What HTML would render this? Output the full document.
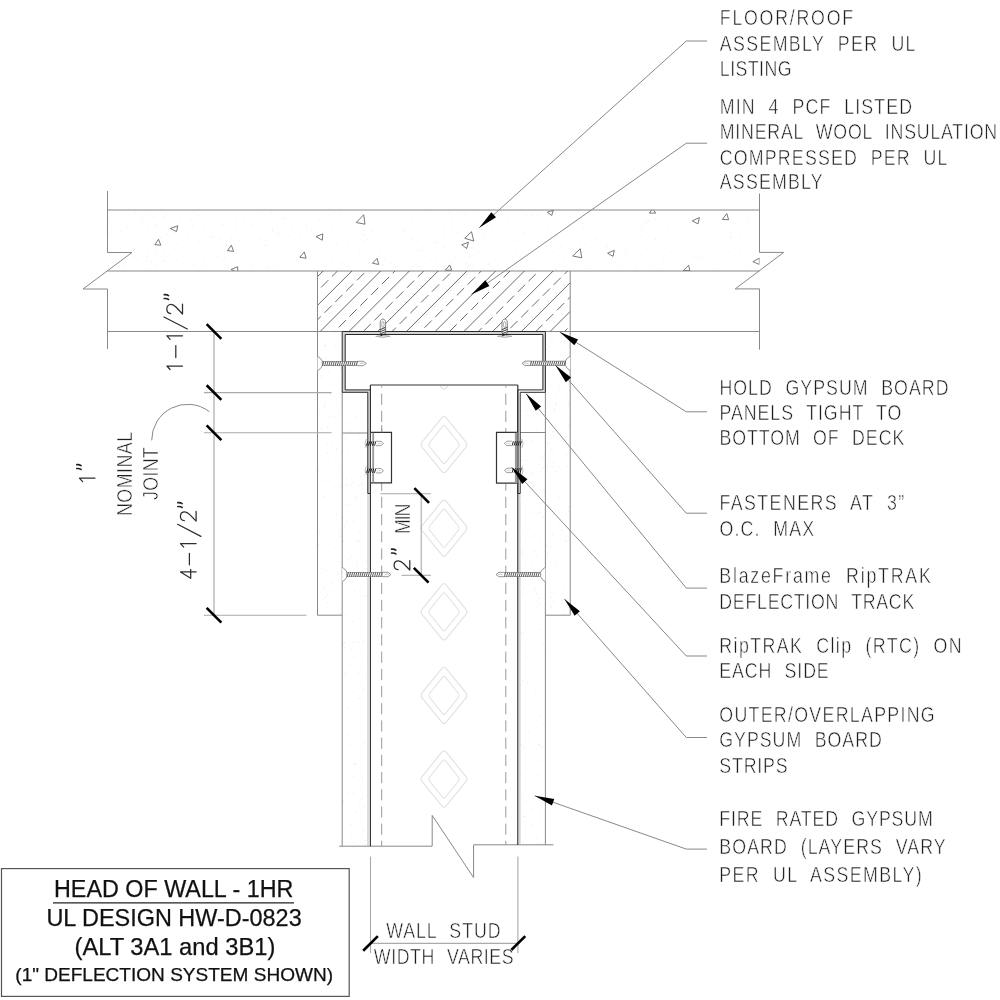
<!DOCTYPE html>
<html><head><meta charset="utf-8"><style>
html,body{margin:0;padding:0;background:#fff;width:1000px;height:1000px;overflow:hidden}
svg{display:block;will-change:transform}
.c{font-family:"Liberation Sans",sans-serif;font-size:22.8px;word-spacing:8.5px;letter-spacing:1.2px;fill:#1e1e1e;stroke:#fff;stroke-width:0.55px;paint-order:normal}
.tt{font-family:"Liberation Sans",sans-serif;fill:#111;stroke:#111;stroke-width:0.25px}
</style></head><body>
<svg width="1000" height="1000" viewBox="0 0 1000 1000" shape-rendering="geometricPrecision">
<defs>
<clipPath id="slabclip"><rect x="107.5" y="210" width="652" height="61"/></clipPath>
<clipPath id="insclip"><rect x="317.5" y="271" width="252.7" height="60.5"/></clipPath>
<clipPath id="studclip"><rect x="371" y="385.5" width="146" height="460"/></clipPath>
</defs>
<rect width="1000" height="1000" fill="#fff"/>
<path d="M318.8 219.9h0.8 M531.8 215.3h0.8 M456.9 232.6h0.8 M145.8 240.9h0.8 M132.4 236.6h0.8 M153.5 216.4h0.8 M384.4 259.8h0.8 M188.6 224.2h0.8 M516.5 266.9h0.8 M483.7 234.4h0.8 M743.5 213.7h0.8 M666.9 228.1h0.8 M201.9 217.9h0.8 M308.8 259.2h0.8 M225.7 245.3h0.8 M523.9 233.0h0.8 M464.6 214.7h0.8 M146.8 223.2h0.8 M550.9 236.2h0.8 M312.5 245.5h0.8 M403.0 228.7h0.8 M625.1 252.2h0.8 M266.9 244.9h0.8 M449.9 262.6h0.8 M582.9 228.0h0.8 M746.1 218.0h0.8 M380.2 255.7h0.8 M206.9 239.8h0.8 M133.5 250.4h0.8 M605.7 244.8h0.8 M677.9 229.5h0.8 M560.6 246.1h0.8 M485.5 237.9h0.8 M654.8 266.7h0.8 M416.6 250.2h0.8 M147.5 252.4h0.8 M529.3 269.6h0.8 M643.1 227.8h0.8 M359.2 250.5h0.8 M122.7 238.2h0.8 M217.4 217.9h0.8 M146.4 256.3h0.8 M192.2 225.6h0.8 M362.5 262.4h0.8 M160.5 237.5h0.8 M465.7 263.1h0.8 M641.4 262.0h0.8 M289.3 235.5h0.8 M341.6 263.2h0.8 M731.5 219.9h0.8 M222.7 224.7h0.8 M259.9 239.6h0.8 M491.5 226.5h0.8 M110.7 235.7h0.8 M348.4 244.4h0.8 M728.5 251.7h0.8 M443.6 247.4h0.8 M548.2 214.2h0.8 M693.6 257.0h0.8 M677.3 258.1h0.8 M363.4 234.5h0.8 M175.4 248.4h0.8 M148.5 215.0h0.8 M243.9 220.6h0.8 M329.4 214.1h0.8 M108.2 219.9h0.8 M174.1 232.5h0.8 M124.6 262.6h0.8 M507.8 219.8h0.8 M272.2 231.5h0.8 M345.1 218.2h0.8 M660.7 269.6h0.8 M411.4 239.5h0.8 M163.9 217.0h0.8 M331.1 226.6h0.8 M647.6 220.5h0.8 M123.0 267.1h0.8 M451.9 219.6h0.8 M461.6 212.6h0.8 M451.8 268.7h0.8 M670.0 252.1h0.8 M278.0 232.6h0.8 M216.7 256.5h0.8 M454.7 257.0h0.8 M322.6 224.2h0.8 M636.3 269.1h0.8 M663.1 258.6h0.8 M640.7 254.7h0.8 M255.6 241.5h0.8 M339.5 212.7h0.8 M126.2 227.5h0.8 M276.7 251.9h0.8 M730.7 237.4h0.8 M718.0 269.3h0.8 M729.7 232.5h0.8 M251.5 224.4h0.8 M236.1 223.1h0.8 M514.3 264.1h0.8 M655.1 239.3h0.8 M533.1 258.2h0.8 M163.2 250.0h0.8 M700.3 257.2h0.8 M596.3 239.2h0.8 M224.2 257.6h0.8 M324.5 258.2h0.8 M740.5 234.4h0.8 M369.3 266.9h0.8 M579.8 221.0h0.8 M190.7 219.9h0.8 M697.1 258.6h0.8 M203.2 259.8h0.8 M746.2 249.8h0.8 M336.1 243.4h0.8 M193.3 211.8h0.8 M740.0 249.3h0.8 M450.8 266.1h0.8 M390.4 262.4h0.8 M645.8 223.5h0.8 M271.9 228.3h0.8 M264.6 245.6h0.8 M276.8 235.7h0.8 M193.3 264.7h0.8 M338.3 238.0h0.8 M487.8 264.4h0.8 M381.8 265.1h0.8 M434.6 242.4h0.8 M448.8 212.1h0.8 M394.5 221.8h0.8 M110.6 258.2h0.8 M220.2 238.9h0.8 M580.1 243.8h0.8 M320.2 241.6h0.8 M469.6 257.3h0.8 M177.1 244.1h0.8 M269.8 227.3h0.8 M610.7 241.0h0.8 M473.7 255.8h0.8 M702.0 237.2h0.8 M506.8 240.8h0.8 M441.4 251.9h0.8 M402.5 242.5h0.8 M419.2 266.5h0.8 M563.2 262.7h0.8 M721.4 226.3h0.8 M472.2 266.7h0.8 M654.8 219.1h0.8 M187.2 237.1h0.8 M155.2 225.2h0.8 M155.6 250.5h0.8 M618.3 263.9h0.8 M208.5 253.3h0.8 M537.8 219.4h0.8 M682.7 268.1h0.8 M251.0 267.2h0.8 M367.3 239.7h0.8 M752.4 260.1h0.8 M213.1 236.5h0.8 M443.7 231.0h0.8 M235.4 229.8h0.8 M578.1 212.1h0.8 M468.7 237.0h0.8 M119.8 230.6h0.8 M514.2 241.2h0.8 M149.9 269.1h0.8 M621.2 268.3h0.8 M176.2 226.7h0.8 M133.8 257.0h0.8 M284.1 218.6h0.8 M382.9 264.8h0.8 M641.2 226.3h0.8 M205.2 265.2h0.8 M479.5 252.3h0.8 M166.2 214.4h0.8 M556.0 236.1h0.8 M155.1 266.4h0.8 M521.0 258.3h0.8 M162.5 261.5h0.8 M151.4 261.9h0.8 M403.4 231.0h0.8 M468.0 265.7h0.8 M282.4 218.6h0.8 M451.0 225.1h0.8 M179.3 220.5h0.8 M140.8 222.9h0.8 M311.1 229.0h0.8 M602.4 228.1h0.8 M433.6 221.5h0.8 M333.9 212.1h0.8 M271.0 211.9h0.8 M585.2 243.5h0.8 M231.3 239.0h0.8 M716.5 217.3h0.8 M641.1 236.5h0.8 M430.2 260.2h0.8 M363.9 240.9h0.8 M555.7 269.0h0.8 M331.1 260.1h0.8 M568.1 248.5h0.8 M371.5 231.5h0.8 M143.4 218.7h0.8 M154.0 254.7h0.8 M274.4 220.6h0.8 M163.0 260.6h0.8 M674.7 250.6h0.8 M291.5 225.3h0.8 M298.8 238.1h0.8 M210.6 237.3h0.8 M279.4 267.7h0.8 M741.2 243.3h0.8 M267.1 268.0h0.8 M309.5 232.0h0.8 M108.7 233.5h0.8 M417.0 240.7h0.8 M238.8 240.8h0.8 M111.2 226.6h0.8 M166.4 234.6h0.8 M135.1 212.3h0.8 M306.1 224.7h0.8 M489.2 242.2h0.8 M596.6 249.8h0.8 M574.1 262.9h0.8 M361.6 230.2h0.8 M749.1 219.8h0.8 M579.4 248.9h0.8 M136.5 260.3h0.8 M688.7 248.0h0.8 M585.7 258.9h0.8 M198.7 241.9h0.8 M436.3 260.3h0.8 M631.8 259.8h0.8 M488.2 263.7h0.8 M552.6 251.9h0.8 M257.7 212.8h0.8 M194.6 232.3h0.8 M176.3 260.3h0.8 M471.6 248.0h0.8 M515.7 251.2h0.8 M426.5 211.2h0.8 M627.3 255.1h0.8 M435.4 242.6h0.8 M537.2 214.9h0.8 M587.6 225.9h0.8 M156.5 226.7h0.8 M582.8 223.1h0.8 M589.6 268.6h0.8 M429.6 233.6h0.8 M419.8 251.3h0.8 M607.3 247.4h0.8 M526.4 215.6h0.8 M204.0 226.0h0.8 M591.8 229.0h0.8 M477.6 211.7h0.8 M147.5 226.9h0.8 M545.5 251.8h0.8 M547.9 228.2h0.8 M444.3 238.4h0.8 M411.6 218.0h0.8 M689.8 222.8h0.8 M744.8 266.2h0.8 M119.4 238.1h0.8" stroke="#e2e2e2" stroke-width="0.8" fill="none"/>
<path d="M337.7 606.0h0.8 M328.8 408.0h0.8 M323.0 599.6h0.8 M323.1 496.6h0.8 M321.4 480.3h0.8 M340.9 369.5h0.8 M337.7 476.0h0.8 M339.3 531.0h0.8 M323.6 586.1h0.8 M329.7 339.0h0.8 M318.1 471.1h0.8 M328.8 417.5h0.8 M321.4 429.3h0.8 M325.6 569.8h0.8 M318.0 544.5h0.8 M338.1 366.0h0.8 M340.2 533.8h0.8 M339.6 414.0h0.8 M326.9 443.2h0.8 M342.0 498.7h0.8 M326.7 453.1h0.8 M324.6 345.7h0.8 M320.4 568.2h0.8 M324.9 596.8h0.8 M324.0 407.2h0.8 M330.3 385.7h0.8 M327.0 602.6h0.8 M339.2 561.8h0.8 M333.1 590.5h0.8 M340.6 487.4h0.8 M335.3 346.0h0.8 M335.6 459.6h0.8 M336.1 514.4h0.8 M324.9 345.9h0.8 M340.2 368.0h0.8 M329.3 429.3h0.8 M325.1 541.1h0.8 M341.4 405.6h0.8 M333.7 417.1h0.8 M331.4 443.6h0.8 M322.0 377.7h0.8 M323.0 588.4h0.8 M329.9 394.3h0.8 M339.8 614.0h0.8 M328.8 371.5h0.8 M322.6 357.7h0.8 M326.2 357.8h0.8 M323.7 405.1h0.8 M331.7 583.1h0.8 M336.0 448.8h0.8 M327.9 480.3h0.8 M327.0 427.7h0.8 M319.5 410.5h0.8 M341.2 367.6h0.8 M330.1 510.2h0.8 M338.7 393.1h0.8 M324.5 402.3h0.8 M327.6 458.2h0.8 M340.9 572.2h0.8 M338.9 338.2h0.8 M318.8 532.8h0.8 M339.5 465.9h0.8 M332.1 332.1h0.8 M327.4 594.3h0.8 M337.8 574.1h0.8 M341.3 402.3h0.8 M320.6 375.7h0.8 M330.5 525.0h0.8 M340.6 536.3h0.8 M333.5 548.4h0.8" stroke="#dcdcdc" stroke-width="0.8" fill="none"/>
<path d="M557.0 488.1h0.8 M546.9 553.4h0.8 M551.6 592.3h0.8 M561.5 418.0h0.8 M549.1 403.3h0.8 M561.3 529.7h0.8 M548.7 351.9h0.8 M558.6 497.0h0.8 M555.3 395.3h0.8 M560.4 335.0h0.8 M553.2 462.4h0.8 M569.0 514.4h0.8 M567.2 466.5h0.8 M551.6 401.9h0.8 M569.1 531.4h0.8 M553.4 338.2h0.8 M558.0 522.9h0.8 M556.1 404.8h0.8 M562.0 593.8h0.8 M551.4 341.6h0.8 M554.1 451.0h0.8 M562.4 388.1h0.8 M565.1 541.2h0.8 M558.1 390.1h0.8 M569.3 420.2h0.8 M565.7 397.3h0.8 M551.3 547.2h0.8 M553.1 601.4h0.8 M557.9 385.0h0.8 M551.4 450.0h0.8 M562.0 600.5h0.8 M549.5 443.3h0.8 M551.1 607.7h0.8 M549.4 346.7h0.8 M547.4 443.3h0.8 M567.6 582.1h0.8 M563.6 614.3h0.8 M568.4 425.2h0.8 M550.5 596.9h0.8 M563.9 341.0h0.8 M561.9 439.1h0.8 M555.0 425.9h0.8 M550.1 332.8h0.8 M552.7 431.5h0.8 M568.9 367.0h0.8 M569.1 390.7h0.8 M554.6 564.5h0.8 M565.7 454.4h0.8 M547.2 466.0h0.8 M554.9 592.2h0.8 M550.6 435.1h0.8 M567.5 340.6h0.8 M555.9 561.7h0.8 M564.4 343.5h0.8 M546.8 349.7h0.8 M568.1 404.7h0.8 M563.9 586.3h0.8 M554.1 409.1h0.8 M569.0 506.6h0.8 M552.3 534.8h0.8 M553.6 410.0h0.8 M546.1 545.8h0.8 M568.0 511.4h0.8 M568.6 338.9h0.8 M551.6 466.5h0.8 M569.0 602.0h0.8 M555.3 403.0h0.8 M556.3 471.7h0.8 M568.3 383.8h0.8 M565.3 541.0h0.8" stroke="#dcdcdc" stroke-width="0.8" fill="none"/>
<path d="M363.6 743.1h0.8 M358.2 541.5h0.8 M351.0 556.9h0.8 M362.6 428.8h0.8 M347.9 734.1h0.8 M349.2 422.3h0.8 M343.8 643.3h0.8 M351.1 837.1h0.8 M365.1 840.5h0.8 M349.6 431.1h0.8 M345.4 618.8h0.8 M360.7 595.5h0.8 M348.9 581.8h0.8 M358.5 698.4h0.8 M361.7 776.7h0.8 M359.6 447.9h0.8 M364.0 526.1h0.8 M357.2 562.0h0.8 M361.5 483.2h0.8 M349.2 504.1h0.8 M346.8 793.5h0.8 M357.5 540.8h0.8 M352.9 842.6h0.8 M355.7 497.8h0.8 M363.2 689.0h0.8 M367.8 439.4h0.8 M354.9 764.1h0.8 M364.0 807.2h0.8 M344.0 526.0h0.8 M346.0 478.9h0.8 M367.3 657.2h0.8 M366.3 561.6h0.8 M364.7 596.4h0.8 M349.5 745.3h0.8 M366.6 440.9h0.8 M357.9 673.8h0.8 M348.4 560.0h0.8 M346.5 485.4h0.8 M349.4 664.5h0.8 M359.3 485.2h0.8 M343.3 541.2h0.8 M360.0 476.9h0.8 M350.8 485.1h0.8 M362.9 641.3h0.8 M344.6 438.9h0.8 M352.9 642.2h0.8 M359.0 434.3h0.8 M347.1 708.0h0.8 M353.2 521.3h0.8 M350.7 824.8h0.8 M350.8 649.6h0.8 M351.9 581.6h0.8 M364.6 844.5h0.8 M352.1 482.3h0.8 M361.2 485.3h0.8 M343.1 801.4h0.8 M353.6 764.6h0.8 M353.2 792.9h0.8 M354.5 466.6h0.8 M343.4 642.9h0.8 M359.0 805.1h0.8 M345.2 674.9h0.8 M352.3 621.5h0.8 M346.6 521.3h0.8 M356.0 812.3h0.8 M345.7 615.2h0.8 M363.1 831.0h0.8 M347.9 450.4h0.8 M366.6 834.9h0.8 M355.1 417.2h0.8 M366.2 568.7h0.8 M365.6 674.0h0.8 M363.6 465.6h0.8 M362.6 493.6h0.8 M353.1 776.4h0.8 M363.7 475.9h0.8 M348.5 574.1h0.8 M355.9 566.8h0.8 M346.1 504.9h0.8 M361.1 799.5h0.8 M344.0 647.7h0.8 M361.9 410.3h0.8 M364.0 446.3h0.8 M358.0 642.2h0.8 M358.7 531.7h0.8 M353.5 656.9h0.8 M353.6 691.5h0.8 M354.2 591.6h0.8 M343.6 673.4h0.8 M355.2 499.6h0.8" stroke="#dcdcdc" stroke-width="0.8" fill="none"/>
<path d="M539.1 745.5h0.8 M531.5 474.2h0.8 M531.8 441.4h0.8 M523.2 587.6h0.8 M522.3 592.8h0.8 M532.8 411.4h0.8 M535.9 430.2h0.8 M538.3 744.5h0.8 M532.8 417.5h0.8 M532.6 563.8h0.8 M543.8 454.6h0.8 M541.4 843.2h0.8 M538.3 761.4h0.8 M524.8 836.7h0.8 M532.3 825.4h0.8 M542.9 467.6h0.8 M539.7 813.6h0.8 M521.6 551.6h0.8 M538.9 464.8h0.8 M542.4 517.3h0.8 M540.4 457.9h0.8 M532.6 808.8h0.8 M525.2 511.8h0.8 M532.7 537.2h0.8 M520.9 475.3h0.8 M524.0 816.3h0.8 M537.0 797.7h0.8 M524.2 747.8h0.8 M522.9 632.9h0.8 M535.9 555.6h0.8 M541.8 643.9h0.8 M534.5 791.9h0.8 M522.6 841.8h0.8 M535.7 571.2h0.8 M539.9 512.7h0.8 M544.8 654.0h0.8 M529.0 738.6h0.8 M531.1 472.9h0.8 M538.6 414.8h0.8 M540.5 507.7h0.8 M536.0 837.8h0.8 M534.6 693.0h0.8 M527.8 393.8h0.8 M520.8 460.5h0.8 M535.4 588.4h0.8 M532.8 797.8h0.8 M523.3 495.7h0.8 M536.3 403.1h0.8 M520.1 553.4h0.8 M522.7 554.4h0.8 M525.6 656.8h0.8 M534.7 485.3h0.8 M535.6 607.7h0.8 M523.4 816.3h0.8 M526.1 460.5h0.8 M522.4 681.5h0.8 M541.8 746.5h0.8 M530.0 512.4h0.8 M520.3 684.5h0.8 M534.1 551.4h0.8 M536.1 593.6h0.8 M543.4 724.6h0.8 M526.2 801.4h0.8 M521.1 633.3h0.8 M530.1 500.4h0.8 M521.5 745.1h0.8 M520.3 642.0h0.8 M543.5 457.3h0.8 M525.0 667.9h0.8 M532.7 683.0h0.8 M540.3 471.9h0.8 M527.7 528.7h0.8 M521.2 795.0h0.8 M539.6 716.4h0.8 M520.2 774.7h0.8 M538.6 603.3h0.8 M538.5 597.5h0.8 M525.6 440.6h0.8 M525.8 410.5h0.8 M528.4 731.8h0.8 M537.4 775.1h0.8 M537.8 513.2h0.8 M533.8 590.1h0.8 M539.7 629.5h0.8 M526.6 683.2h0.8 M544.1 491.1h0.8 M542.0 399.9h0.8 M526.5 499.7h0.8 M538.6 820.0h0.8 M538.7 540.7h0.8" stroke="#dcdcdc" stroke-width="0.8" fill="none"/>
<line x1="107.50" y1="210.00" x2="759.50" y2="210.00" stroke="#888" stroke-width="1.0" />
<line x1="107.50" y1="271.00" x2="759.50" y2="271.00" stroke="#888" stroke-width="1.0" />
<line x1="107.50" y1="331.50" x2="759.50" y2="331.50" stroke="#888" stroke-width="1.0" />
<polyline points="107.50,191.00 107.50,252.50 132.00,252.50 83.00,289.00 107.50,289.00 107.50,349.00" stroke="#888" stroke-width="1.0" fill="none" />
<polyline points="759.50,193.50 759.50,252.40 783.70,252.40 735.20,288.90 759.50,288.90 759.50,349.60" stroke="#888" stroke-width="1.0" fill="none" />
<g clip-path="url(#slabclip)">
<polygon points="170.20,228.50 177.80,225.80 176.50,231.60" stroke="#6a6a6a" stroke-width="0.9" fill="none" stroke-linejoin="round"/>
<polygon points="154.90,244.70 158.50,239.30 160.80,245.20" stroke="#6a6a6a" stroke-width="0.9" fill="none" stroke-linejoin="round"/>
<polygon points="227.40,250.60 231.40,245.20 233.60,251.40" stroke="#6a6a6a" stroke-width="0.9" fill="none" stroke-linejoin="round"/>
<polygon points="316.00,236.60 322.80,233.90 322.30,240.20" stroke="#6a6a6a" stroke-width="0.9" fill="none" stroke-linejoin="round"/>
<polygon points="299.80,257.30 304.30,251.90 306.10,258.20" stroke="#6a6a6a" stroke-width="0.9" fill="none" stroke-linejoin="round"/>
<polygon points="231.00,269.40 237.70,266.80 237.70,272.80" stroke="#6a6a6a" stroke-width="0.9" fill="none" stroke-linejoin="round"/>
<polygon points="356.25,222.55 363.70,214.75 365.00,224.20" stroke="#6a6a6a" stroke-width="0.9" fill="none" stroke-linejoin="round"/>
<polygon points="372.50,263.20 377.10,258.30 378.70,264.50" stroke="#6a6a6a" stroke-width="0.9" fill="none" stroke-linejoin="round"/>
<polygon points="464.75,238.30 471.50,231.70 473.75,241.00" stroke="#6a6a6a" stroke-width="0.9" fill="none" stroke-linejoin="round"/>
<polygon points="461.75,244.75 468.50,242.20 466.70,248.50" stroke="#6a6a6a" stroke-width="0.9" fill="none" stroke-linejoin="round"/>
<polygon points="445.25,270.25 449.75,265.00 451.70,270.25" stroke="#6a6a6a" stroke-width="0.9" fill="none" stroke-linejoin="round"/>
<polygon points="547.25,212.20 553.25,210.25 551.75,215.50" stroke="#6a6a6a" stroke-width="0.9" fill="none" stroke-linejoin="round"/>
<polygon points="572.75,256.00 580.25,248.80 581.75,257.80" stroke="#6a6a6a" stroke-width="0.9" fill="none" stroke-linejoin="round"/>
<polygon points="649.40,213.10 652.60,208.50 655.70,213.10" stroke="#6a6a6a" stroke-width="0.9" fill="none" stroke-linejoin="round"/>
<polygon points="692.20,220.80 699.40,217.60 698.00,223.90" stroke="#6a6a6a" stroke-width="0.9" fill="none" stroke-linejoin="round"/>
<polygon points="722.30,219.40 726.80,213.60 728.60,219.80" stroke="#6a6a6a" stroke-width="0.9" fill="none" stroke-linejoin="round"/>
<polygon points="607.60,253.20 614.30,250.40 613.00,256.30" stroke="#6a6a6a" stroke-width="0.9" fill="none" stroke-linejoin="round"/>
<polygon points="683.20,270.70 688.60,265.30 689.90,270.70" stroke="#6a6a6a" stroke-width="0.9" fill="none" stroke-linejoin="round"/>
<polygon points="752.90,261.70 759.50,258.10 759.20,264.40" stroke="#6a6a6a" stroke-width="0.9" fill="none" stroke-linejoin="round"/>
</g>
<g clip-path="url(#insclip)">
<line x1="294.40" y1="271.00" x2="233.90" y2="331.50" stroke="#5a5a5a" stroke-width="0.9" />
<line x1="308.77" y1="271.00" x2="248.27" y2="331.50" stroke="#5a5a5a" stroke-width="0.9" stroke-dasharray="10.2 5.1" stroke-dashoffset="7.60"/>
<line x1="323.15" y1="271.00" x2="262.65" y2="331.50" stroke="#5a5a5a" stroke-width="0.9" />
<line x1="337.52" y1="271.00" x2="277.02" y2="331.50" stroke="#5a5a5a" stroke-width="0.9" stroke-dasharray="10.2 5.1" stroke-dashoffset="2.30"/>
<line x1="351.90" y1="271.00" x2="291.40" y2="331.50" stroke="#5a5a5a" stroke-width="0.9" />
<line x1="366.27" y1="271.00" x2="305.77" y2="331.50" stroke="#5a5a5a" stroke-width="0.9" stroke-dasharray="10.2 5.1" stroke-dashoffset="12.30"/>
<line x1="380.65" y1="271.00" x2="320.15" y2="331.50" stroke="#5a5a5a" stroke-width="0.9" />
<line x1="395.02" y1="271.00" x2="334.52" y2="331.50" stroke="#5a5a5a" stroke-width="0.9" stroke-dasharray="10.2 5.1" stroke-dashoffset="7.00"/>
<line x1="409.40" y1="271.00" x2="348.90" y2="331.50" stroke="#5a5a5a" stroke-width="0.9" />
<line x1="423.77" y1="271.00" x2="363.27" y2="331.50" stroke="#5a5a5a" stroke-width="0.9" stroke-dasharray="10.2 5.1" stroke-dashoffset="1.70"/>
<line x1="438.15" y1="271.00" x2="377.65" y2="331.50" stroke="#5a5a5a" stroke-width="0.9" />
<line x1="452.52" y1="271.00" x2="392.02" y2="331.50" stroke="#5a5a5a" stroke-width="0.9" stroke-dasharray="10.2 5.1" stroke-dashoffset="11.70"/>
<line x1="466.90" y1="271.00" x2="406.40" y2="331.50" stroke="#5a5a5a" stroke-width="0.9" />
<line x1="481.27" y1="271.00" x2="420.77" y2="331.50" stroke="#5a5a5a" stroke-width="0.9" stroke-dasharray="10.2 5.1" stroke-dashoffset="6.40"/>
<line x1="495.65" y1="271.00" x2="435.15" y2="331.50" stroke="#5a5a5a" stroke-width="0.9" />
<line x1="510.02" y1="271.00" x2="449.52" y2="331.50" stroke="#5a5a5a" stroke-width="0.9" stroke-dasharray="10.2 5.1" stroke-dashoffset="1.10"/>
<line x1="524.40" y1="271.00" x2="463.90" y2="331.50" stroke="#5a5a5a" stroke-width="0.9" />
<line x1="538.77" y1="271.00" x2="478.27" y2="331.50" stroke="#5a5a5a" stroke-width="0.9" stroke-dasharray="10.2 5.1" stroke-dashoffset="11.10"/>
<line x1="553.15" y1="271.00" x2="492.65" y2="331.50" stroke="#5a5a5a" stroke-width="0.9" />
<line x1="567.52" y1="271.00" x2="507.02" y2="331.50" stroke="#5a5a5a" stroke-width="0.9" stroke-dasharray="10.2 5.1" stroke-dashoffset="5.80"/>
<line x1="581.90" y1="271.00" x2="521.40" y2="331.50" stroke="#5a5a5a" stroke-width="0.9" />
<line x1="596.27" y1="271.00" x2="535.77" y2="331.50" stroke="#5a5a5a" stroke-width="0.9" stroke-dasharray="10.2 5.1" stroke-dashoffset="0.50"/>
<line x1="610.65" y1="271.00" x2="550.15" y2="331.50" stroke="#5a5a5a" stroke-width="0.9" />
<line x1="625.02" y1="271.00" x2="564.52" y2="331.50" stroke="#5a5a5a" stroke-width="0.9" stroke-dasharray="10.2 5.1" stroke-dashoffset="10.50"/>
</g>
<line x1="317.50" y1="271.00" x2="317.50" y2="331.50" stroke="#888" stroke-width="1.0" />
<line x1="570.20" y1="271.00" x2="570.20" y2="331.50" stroke="#888" stroke-width="1.0" />
<line x1="317.50" y1="331.50" x2="317.50" y2="615.20" stroke="#888" stroke-width="1.0" />
<line x1="317.50" y1="615.20" x2="342.20" y2="615.20" stroke="#888" stroke-width="1.0" />
<line x1="570.20" y1="331.50" x2="570.20" y2="615.20" stroke="#888" stroke-width="1.0" />
<line x1="545.40" y1="615.20" x2="570.20" y2="615.20" stroke="#888" stroke-width="1.0" />
<line x1="342.20" y1="392.30" x2="342.20" y2="846.20" stroke="#888" stroke-width="1.0" />
<line x1="545.40" y1="392.30" x2="545.40" y2="845.00" stroke="#888" stroke-width="1.0" />
<line x1="342.20" y1="433.00" x2="367.80" y2="433.00" stroke="#888" stroke-width="1.0" />
<line x1="520.20" y1="432.50" x2="545.40" y2="432.50" stroke="#888" stroke-width="1.0" />
<polyline points="339.20,846.20 432.20,846.20 432.20,815.40 473.60,877.60 473.60,844.80 553.40,844.80" stroke="#888" stroke-width="1.0" fill="none" />
<g clip-path="url(#studclip)">
<path d="M441.79 334.21 Q444.00 331.50 446.21 334.21 L465.79 358.29 Q468.00 361.00 465.79 363.71 L446.21 387.79 Q444.00 390.50 441.79 387.79 L422.21 363.71 Q420.00 361.00 422.21 358.29 Z" fill="none" stroke="#e3e3e3" stroke-width="1.2"/>
<path d="M442.44 342.95 Q444.00 341.00 445.56 342.95 L458.44 359.05 Q460.00 361.00 458.44 362.95 L445.56 379.05 Q444.00 381.00 442.44 379.05 L429.56 362.95 Q428.00 361.00 429.56 359.05 Z" fill="none" stroke="#e6e6e6" stroke-width="1.2"/>
<path d="M441.79 417.81 Q444.00 415.10 446.21 417.81 L465.79 441.89 Q468.00 444.60 465.79 447.31 L446.21 471.39 Q444.00 474.10 441.79 471.39 L422.21 447.31 Q420.00 444.60 422.21 441.89 Z" fill="none" stroke="#e3e3e3" stroke-width="1.2"/>
<path d="M442.44 426.55 Q444.00 424.60 445.56 426.55 L458.44 442.65 Q460.00 444.60 458.44 446.55 L445.56 462.65 Q444.00 464.60 442.44 462.65 L429.56 446.55 Q428.00 444.60 429.56 442.65 Z" fill="none" stroke="#e6e6e6" stroke-width="1.2"/>
<path d="M441.79 501.41 Q444.00 498.70 446.21 501.41 L465.79 525.49 Q468.00 528.20 465.79 530.91 L446.21 554.99 Q444.00 557.70 441.79 554.99 L422.21 530.91 Q420.00 528.20 422.21 525.49 Z" fill="none" stroke="#e3e3e3" stroke-width="1.2"/>
<path d="M442.44 510.15 Q444.00 508.20 445.56 510.15 L458.44 526.25 Q460.00 528.20 458.44 530.15 L445.56 546.25 Q444.00 548.20 442.44 546.25 L429.56 530.15 Q428.00 528.20 429.56 526.25 Z" fill="none" stroke="#e6e6e6" stroke-width="1.2"/>
<path d="M441.79 585.01 Q444.00 582.30 446.21 585.01 L465.79 609.09 Q468.00 611.80 465.79 614.51 L446.21 638.59 Q444.00 641.30 441.79 638.59 L422.21 614.51 Q420.00 611.80 422.21 609.09 Z" fill="none" stroke="#e3e3e3" stroke-width="1.2"/>
<path d="M442.44 593.75 Q444.00 591.80 445.56 593.75 L458.44 609.85 Q460.00 611.80 458.44 613.75 L445.56 629.85 Q444.00 631.80 442.44 629.85 L429.56 613.75 Q428.00 611.80 429.56 609.85 Z" fill="none" stroke="#e6e6e6" stroke-width="1.2"/>
<path d="M441.79 668.61 Q444.00 665.90 446.21 668.61 L465.79 692.69 Q468.00 695.40 465.79 698.11 L446.21 722.19 Q444.00 724.90 441.79 722.19 L422.21 698.11 Q420.00 695.40 422.21 692.69 Z" fill="none" stroke="#e3e3e3" stroke-width="1.2"/>
<path d="M442.44 677.35 Q444.00 675.40 445.56 677.35 L458.44 693.45 Q460.00 695.40 458.44 697.35 L445.56 713.45 Q444.00 715.40 442.44 713.45 L429.56 697.35 Q428.00 695.40 429.56 693.45 Z" fill="none" stroke="#e6e6e6" stroke-width="1.2"/>
<path d="M441.79 752.21 Q444.00 749.50 446.21 752.21 L465.79 776.29 Q468.00 779.00 465.79 781.71 L446.21 805.79 Q444.00 808.50 441.79 805.79 L422.21 781.71 Q420.00 779.00 422.21 776.29 Z" fill="none" stroke="#e3e3e3" stroke-width="1.2"/>
<path d="M442.44 760.95 Q444.00 759.00 445.56 760.95 L458.44 777.05 Q460.00 779.00 458.44 780.95 L445.56 797.05 Q444.00 799.00 442.44 797.05 L429.56 780.95 Q428.00 779.00 429.56 777.05 Z" fill="none" stroke="#e6e6e6" stroke-width="1.2"/>
</g>
<line x1="370.40" y1="385.00" x2="517.80" y2="385.00" stroke="#333" stroke-width="1.2" />
<line x1="370.40" y1="385.00" x2="370.40" y2="846.20" stroke="#333" stroke-width="1.2" />
<line x1="517.80" y1="385.00" x2="517.80" y2="845.00" stroke="#333" stroke-width="1.2" />
<line x1="368.00" y1="493.50" x2="368.00" y2="846.20" stroke="#bbb" stroke-width="1.0" />
<line x1="519.90" y1="493.50" x2="519.90" y2="845.00" stroke="#bbb" stroke-width="1.0" />
<line x1="381.70" y1="385.00" x2="381.70" y2="846.20" stroke="#999" stroke-width="1.0" stroke-dasharray="11.2 6" stroke-dashoffset="8.6"/>
<line x1="505.80" y1="385.00" x2="505.80" y2="845.00" stroke="#999" stroke-width="1.0" stroke-dasharray="11.2 6" stroke-dashoffset="8.6"/>
<polygon points="342.20,331.50 545.40,331.50 542.90,334.50 345.20,334.50" stroke="none" stroke-width="0" fill="#d4d4d4" />
<polygon points="342.20,331.50 342.20,392.30 367.80,392.30 367.80,493.50 370.40,493.50 370.40,389.90 345.20,389.90 345.20,334.50" stroke="none" stroke-width="0" fill="#d4d4d4" />
<polygon points="545.40,331.50 545.40,392.30 542.90,389.90 542.90,334.50" stroke="none" stroke-width="0" fill="#d4d4d4" />
<polyline points="367.80,493.50 367.80,392.30 342.20,392.30 342.20,331.50 545.40,331.50 545.40,392.30 520.20,392.30 520.20,493.50" stroke="#2a2a2a" stroke-width="1.0" fill="none" />
<polyline points="370.40,493.50 370.40,389.90 345.20,389.90 345.20,334.50 542.90,334.50 542.90,389.90 517.80,389.90 517.80,493.50" stroke="#2a2a2a" stroke-width="1.0" fill="none" />
<line x1="367.80" y1="493.50" x2="370.40" y2="493.50" stroke="#2a2a2a" stroke-width="1.0" />
<line x1="517.80" y1="493.50" x2="520.20" y2="493.50" stroke="#2a2a2a" stroke-width="1.0" />
<path d="M370.9 432.3 H391.5 V482.9 H370.9" fill="white" stroke="#333" stroke-width="1.2"/>
<line x1="373.20" y1="432.80" x2="373.20" y2="482.40" stroke="#999" stroke-width="1.8" />
<path d="M517.3 432.3 H496.5 V483.2 H517.3" fill="white" stroke="#333" stroke-width="1.2"/>
<line x1="516.00" y1="432.80" x2="516.00" y2="482.70" stroke="#999" stroke-width="2.2" />
<line x1="381.70" y1="425.00" x2="381.70" y2="432.30" stroke="#999" stroke-width="1.0" />
<path d="M317.5 356.3 Q321.0 358.1 322.3 361.3 L322.3 365.7 Q321.0 368.9 317.5 370.7" fill="white" stroke="#888" stroke-width="0.9"/>
<rect x="322.30" y="361.30" width="35.80" height="4.40" fill="white" stroke="#777" stroke-width="0.6"/>
<path d="M322.50 365.70 L323.80 361.30 M324.60 365.70 L325.90 361.30 M326.70 365.70 L328.00 361.30 M328.80 365.70 L330.10 361.30 M330.90 365.70 L332.20 361.30 M333.00 365.70 L334.30 361.30 M335.10 365.70 L336.40 361.30 M337.20 365.70 L338.50 361.30 M339.30 365.70 L340.60 361.30 M341.40 365.70 L342.70 361.30 M343.50 365.70 L344.80 361.30 M345.60 365.70 L346.90 361.30 M347.70 365.70 L349.00 361.30 M349.80 365.70 L351.10 361.30 M351.90 365.70 L353.20 361.30 M354.00 365.70 L355.30 361.30 M356.10 365.70 L357.40 361.30" fill="none" stroke="#333" stroke-width="0.8"/>
<path d="M358.1 361.3 L363.3 361.3 L366.3 363.5 L363.3 365.7 L358.1 365.7" fill="white" stroke="#888" stroke-width="0.9"/>
<path d="M359.6 364.0 Q362.1 362.7 364.3 363.2" fill="none" stroke="#aaa" stroke-width="0.7"/>
<path d="M570.2 356.1 Q566.7 357.90000000000003 565.4000000000001 361.1 L565.4000000000001 365.5 Q566.7 368.7 570.2 370.5" fill="white" stroke="#888" stroke-width="0.9"/>
<rect x="530.20" y="361.10" width="35.20" height="4.40" fill="white" stroke="#777" stroke-width="0.6"/>
<path d="M530.40 365.50 L531.70 361.10 M532.50 365.50 L533.80 361.10 M534.60 365.50 L535.90 361.10 M536.70 365.50 L538.00 361.10 M538.80 365.50 L540.10 361.10 M540.90 365.50 L542.20 361.10 M543.00 365.50 L544.30 361.10 M545.10 365.50 L546.40 361.10 M547.20 365.50 L548.50 361.10 M549.30 365.50 L550.60 361.10 M551.40 365.50 L552.70 361.10 M553.50 365.50 L554.80 361.10 M555.60 365.50 L556.90 361.10 M557.70 365.50 L559.00 361.10 M559.80 365.50 L561.10 361.10 M561.90 365.50 L563.20 361.10 M564.00 365.50 L565.30 361.10" fill="none" stroke="#333" stroke-width="0.8"/>
<path d="M530.2 361.1 L525 361.1 L522 363.3 L525 365.5 L530.2 365.5" fill="white" stroke="#888" stroke-width="0.9"/>
<path d="M528.7 363.8 Q526.2 362.5 524 363.0" fill="none" stroke="#aaa" stroke-width="0.7"/>
<path d="M342.2 567.3 Q345.7 569.0999999999999 347.0 572.3 L347.0 576.7 Q345.7 579.9000000000001 342.2 581.7" fill="white" stroke="#888" stroke-width="0.9"/>
<rect x="347.00" y="572.30" width="35.80" height="4.40" fill="white" stroke="#777" stroke-width="0.6"/>
<path d="M347.20 576.70 L348.50 572.30 M349.30 576.70 L350.60 572.30 M351.40 576.70 L352.70 572.30 M353.50 576.70 L354.80 572.30 M355.60 576.70 L356.90 572.30 M357.70 576.70 L359.00 572.30 M359.80 576.70 L361.10 572.30 M361.90 576.70 L363.20 572.30 M364.00 576.70 L365.30 572.30 M366.10 576.70 L367.40 572.30 M368.20 576.70 L369.50 572.30 M370.30 576.70 L371.60 572.30 M372.40 576.70 L373.70 572.30 M374.50 576.70 L375.80 572.30 M376.60 576.70 L377.90 572.30 M378.70 576.70 L380.00 572.30 M380.80 576.70 L382.10 572.30" fill="none" stroke="#333" stroke-width="0.8"/>
<path d="M382.8 572.3 L388 572.3 L391 574.5 L388 576.7 L382.8 576.7" fill="white" stroke="#888" stroke-width="0.9"/>
<path d="M384.3 575.0 Q386.8 573.7 389 574.2" fill="none" stroke="#aaa" stroke-width="0.7"/>
<path d="M545.4 567.3 Q541.9 569.0999999999999 540.6 572.3 L540.6 576.7 Q541.9 579.9000000000001 545.4 581.7" fill="white" stroke="#888" stroke-width="0.9"/>
<rect x="504.20" y="572.30" width="36.40" height="4.40" fill="white" stroke="#777" stroke-width="0.6"/>
<path d="M504.40 576.70 L505.70 572.30 M506.50 576.70 L507.80 572.30 M508.60 576.70 L509.90 572.30 M510.70 576.70 L512.00 572.30 M512.80 576.70 L514.10 572.30 M514.90 576.70 L516.20 572.30 M517.00 576.70 L518.30 572.30 M519.10 576.70 L520.40 572.30 M521.20 576.70 L522.50 572.30 M523.30 576.70 L524.60 572.30 M525.40 576.70 L526.70 572.30 M527.50 576.70 L528.80 572.30 M529.60 576.70 L530.90 572.30 M531.70 576.70 L533.00 572.30 M533.80 576.70 L535.10 572.30 M535.90 576.70 L537.20 572.30 M538.00 576.70 L539.30 572.30" fill="none" stroke="#333" stroke-width="0.8"/>
<path d="M504.2 572.3 L499 572.3 L496 574.5 L499 576.7 L504.2 576.7" fill="white" stroke="#888" stroke-width="0.9"/>
<path d="M502.7 575.0 Q500.2 573.7 498 574.2" fill="none" stroke="#aaa" stroke-width="0.7"/>
<path d="M366.3 439.0 Q363.8 443.5 366.3 448.0" fill="none" stroke="#aaa" stroke-width="0.8"/>
<path d="M366.50 445.70 L367.80 441.30 M368.50 445.70 L369.80 441.30 M370.50 445.70 L371.80 441.30 M372.50 445.70 L373.80 441.30 M374.50 445.70 L375.80 441.30" fill="none" stroke="#1a1a1a" stroke-width="0.95"/>
<path d="M376.0 441.3 L381.0 441.3 L383.5 443.5 L381.0 445.7 L376.0 445.7" fill="white" stroke="#888" stroke-width="0.8"/>
<path d="M377.2 443.9 L381.5 443.2" fill="none" stroke="#bbb" stroke-width="0.6"/>
<path d="M366.3 466.2 Q363.8 470.7 366.3 475.2" fill="none" stroke="#aaa" stroke-width="0.8"/>
<path d="M366.50 472.90 L367.80 468.50 M368.50 472.90 L369.80 468.50 M370.50 472.90 L371.80 468.50 M372.50 472.90 L373.80 468.50 M374.50 472.90 L375.80 468.50" fill="none" stroke="#1a1a1a" stroke-width="0.95"/>
<path d="M376.0 468.5 L381.0 468.5 L383.5 470.7 L381.0 472.9 L376.0 472.9" fill="white" stroke="#888" stroke-width="0.8"/>
<path d="M377.2 471.09999999999997 L381.5 470.4" fill="none" stroke="#bbb" stroke-width="0.6"/>
<path d="M521.8 438.9 Q524.3 443.4 521.8 447.9" fill="none" stroke="#aaa" stroke-width="0.8"/>
<path d="M512.10 445.60 L513.40 441.20 M514.10 445.60 L515.40 441.20 M516.10 445.60 L517.40 441.20 M518.10 445.60 L519.40 441.20 M520.10 445.60 L521.40 441.20" fill="none" stroke="#1a1a1a" stroke-width="0.95"/>
<path d="M511.9 441.2 L506.9 441.2 L504.4 443.4 L506.9 445.59999999999997 L511.9 445.59999999999997" fill="white" stroke="#888" stroke-width="0.8"/>
<path d="M510.7 443.79999999999995 L506.4 443.09999999999997" fill="none" stroke="#bbb" stroke-width="0.6"/>
<path d="M521.8 465.9 Q524.3 470.4 521.8 474.9" fill="none" stroke="#aaa" stroke-width="0.8"/>
<path d="M512.10 472.60 L513.40 468.20 M514.10 472.60 L515.40 468.20 M516.10 472.60 L517.40 468.20 M518.10 472.60 L519.40 468.20 M520.10 472.60 L521.40 468.20" fill="none" stroke="#1a1a1a" stroke-width="0.95"/>
<path d="M511.9 468.2 L506.9 468.2 L504.4 470.4 L506.9 472.59999999999997 L511.9 472.59999999999997" fill="white" stroke="#888" stroke-width="0.8"/>
<path d="M510.7 470.79999999999995 L506.4 470.09999999999997" fill="none" stroke="#bbb" stroke-width="0.6"/>
<path d="M375.7 336.3 Q382.9 334.2 390.09999999999997 336.3 Q382.9 338.6 375.7 336.3Z" fill="#e4e4e4" stroke="#999" stroke-width="0.7"/>
<path d="M380.2 333 V323.5 A2.7 4.5 0 0 1 385.59999999999997 323.5 V333" fill="white" stroke="#666" stroke-width="0.8"/>
<ellipse cx="382.9" cy="324.5" rx="1.2" ry="3.2" fill="none" stroke="#888" stroke-width="0.7"/>
<path d="M380.2 329.70 L385.59999999999997 327.30 M380.2 331.80 L385.59999999999997 329.40 M380.2 333.90 L385.59999999999997 331.50 M380.2 336.00 L385.59999999999997 333.60" stroke="#222" stroke-width="0.9"/>
<path d="M497.5 336.3 Q504.7 334.2 511.9 336.3 Q504.7 338.6 497.5 336.3Z" fill="#e4e4e4" stroke="#999" stroke-width="0.7"/>
<path d="M502.0 333 V323.5 A2.7 4.5 0 0 1 507.4 323.5 V333" fill="white" stroke="#666" stroke-width="0.8"/>
<ellipse cx="504.7" cy="324.5" rx="1.2" ry="3.2" fill="none" stroke="#888" stroke-width="0.7"/>
<path d="M502.0 329.70 L507.4 327.30 M502.0 331.80 L507.4 329.40 M502.0 333.90 L507.4 331.50 M502.0 336.00 L507.4 333.60" stroke="#222" stroke-width="0.9"/>
<line x1="214.00" y1="331.50" x2="214.00" y2="615.20" stroke="#aaa" stroke-width="1.2" />
<line x1="204.00" y1="392.60" x2="331.60" y2="392.60" stroke="#aaa" stroke-width="1.1" />
<line x1="204.00" y1="432.80" x2="331.60" y2="432.80" stroke="#aaa" stroke-width="1.1" />
<line x1="204.00" y1="615.20" x2="306.40" y2="615.20" stroke="#aaa" stroke-width="1.1" />
<line x1="206.65" y1="324.15" x2="221.35" y2="338.85" stroke="#000" stroke-width="2.6" />
<line x1="206.65" y1="385.25" x2="221.35" y2="399.95" stroke="#000" stroke-width="2.6" />
<line x1="206.65" y1="425.45" x2="221.35" y2="440.15" stroke="#000" stroke-width="2.6" />
<line x1="206.65" y1="607.85" x2="221.35" y2="622.55" stroke="#000" stroke-width="2.6" />
<line x1="380.50" y1="493.80" x2="431.00" y2="493.80" stroke="#aaa" stroke-width="1.1" />
<line x1="401.50" y1="575.30" x2="431.00" y2="575.30" stroke="#aaa" stroke-width="1.1" />
<line x1="421.20" y1="493.80" x2="421.20" y2="575.30" stroke="#aaa" stroke-width="1.1" />
<line x1="414.35" y1="488.15" x2="429.05" y2="502.85" stroke="#000" stroke-width="2.6" />
<line x1="413.85" y1="567.95" x2="428.55" y2="582.65" stroke="#000" stroke-width="2.6" />
<line x1="370.50" y1="856.50" x2="370.50" y2="953.00" stroke="#aaa" stroke-width="1.1" />
<line x1="517.90" y1="856.50" x2="517.90" y2="953.00" stroke="#aaa" stroke-width="1.1" />
<line x1="370.50" y1="943.40" x2="517.90" y2="943.40" stroke="#aaa" stroke-width="1.1" />
<line x1="363.15" y1="950.75" x2="377.85" y2="936.05" stroke="#000" stroke-width="2.6" />
<line x1="510.55" y1="950.75" x2="525.25" y2="936.05" stroke="#000" stroke-width="2.6" />
<path d="M151.7 440.4 A35.9 35.9 0 0 1 209.3 411.6" fill="none" stroke="#888" stroke-width="1"/>
<line x1="686.30" y1="41.00" x2="707.00" y2="41.00" stroke="#888" stroke-width="1.0" />
<line x1="686.30" y1="41.00" x2="479.20" y2="227.80" stroke="#888" stroke-width="1.0" />
<polygon points="479.20,227.80 496.02,217.34 491.34,212.14" fill="#000"/>
<line x1="686.30" y1="143.20" x2="707.00" y2="143.20" stroke="#888" stroke-width="1.0" />
<line x1="686.30" y1="143.20" x2="471.40" y2="294.40" stroke="#888" stroke-width="1.0" />
<polygon points="471.40,294.40 489.36,286.04 485.33,280.32" fill="#000"/>
<line x1="686.30" y1="411.80" x2="707.00" y2="411.80" stroke="#888" stroke-width="1.0" />
<line x1="686.30" y1="411.80" x2="559.70" y2="332.00" stroke="#888" stroke-width="1.0" />
<polygon points="559.70,332.00 574.33,345.36 578.06,339.44" fill="#000"/>
<line x1="686.30" y1="513.20" x2="707.00" y2="513.20" stroke="#888" stroke-width="1.0" />
<line x1="686.30" y1="513.20" x2="555.50" y2="365.30" stroke="#888" stroke-width="1.0" />
<polygon points="555.50,365.30 565.80,382.23 571.04,377.59" fill="#000"/>
<line x1="686.30" y1="588.10" x2="707.00" y2="588.10" stroke="#888" stroke-width="1.0" />
<line x1="686.30" y1="588.10" x2="526.00" y2="393.60" stroke="#888" stroke-width="1.0" />
<polygon points="526.00,393.60 535.70,410.87 541.10,406.42" fill="#000"/>
<line x1="686.30" y1="656.00" x2="707.00" y2="656.00" stroke="#888" stroke-width="1.0" />
<line x1="686.30" y1="656.00" x2="511.60" y2="467.30" stroke="#888" stroke-width="1.0" />
<polygon points="511.60,467.30 522.28,483.99 527.42,479.23" fill="#000"/>
<line x1="686.30" y1="737.50" x2="707.00" y2="737.50" stroke="#888" stroke-width="1.0" />
<line x1="686.30" y1="737.50" x2="564.40" y2="598.90" stroke="#888" stroke-width="1.0" />
<polygon points="564.40,598.90 574.65,615.85 579.91,611.23" fill="#000"/>
<line x1="686.30" y1="849.10" x2="707.00" y2="849.10" stroke="#888" stroke-width="1.0" />
<line x1="686.30" y1="849.10" x2="534.70" y2="795.80" stroke="#888" stroke-width="1.0" />
<polygon points="534.70,795.80 551.94,805.57 554.26,798.97" fill="#000"/>
<text transform="translate(719.8 25) scale(0.78 1)" x="0" y="0" textLength="172.1" lengthAdjust="spacing" class="c">FLOOR/ROOF</text><text transform="translate(719.8 50.6) scale(0.78 1)" x="0" y="0" textLength="252.1" lengthAdjust="spacing" class="c">ASSEMBLY PER UL</text><text transform="translate(719.8 75.8) scale(0.78 1)" x="0" y="0" textLength="93.3" lengthAdjust="spacing" class="c">LISTING</text><text transform="translate(719.8 113.6) scale(0.78 1)" x="0" y="0" textLength="247.9" lengthAdjust="spacing" class="c">MIN 4 PCF LISTED</text><text transform="translate(719.8 139) scale(0.78 1)" x="0" y="0" textLength="356.7" lengthAdjust="spacing" class="c">MINERAL WOOL INSULATION</text><text transform="translate(719.8 164.8) scale(0.78 1)" x="0" y="0" textLength="293.1" lengthAdjust="spacing" class="c">COMPRESSED PER UL</text><text transform="translate(719.8 189.4) scale(0.78 1)" x="0" y="0" textLength="133.1" lengthAdjust="spacing" class="c">ASSEMBLY</text><text transform="translate(719.4 395) scale(0.78 1)" x="0" y="0" textLength="295.0" lengthAdjust="spacing" class="c">HOLD GYPSUM BOARD</text><text transform="translate(719.4 419.6) scale(0.78 1)" x="0" y="0" textLength="234.6" lengthAdjust="spacing" class="c">PANELS TIGHT TO</text><text transform="translate(719.4 444.8) scale(0.78 1)" x="0" y="0" textLength="238.2" lengthAdjust="spacing" class="c">BOTTOM OF DECK</text><text transform="translate(719.4 510.4) scale(0.78 1)" x="0" y="0" textLength="238.2" lengthAdjust="spacing" class="c">FASTENERS AT 3”</text><text transform="translate(719.4 535.6) scale(0.78 1)" x="0" y="0" textLength="122.7" lengthAdjust="spacing" class="c">O.C. MAX</text><text transform="translate(719.3 583) scale(0.78 1)" x="0" y="0" textLength="272.3" lengthAdjust="spacing" class="c">BlazeFrame RipTRAK</text><text transform="translate(719.3 608.5) scale(0.78 1)" x="0" y="0" textLength="251.2" lengthAdjust="spacing" class="c">DEFLECTION TRACK</text><text transform="translate(719.3 653) scale(0.78 1)" x="0" y="0" textLength="311.9" lengthAdjust="spacing" class="c">RipTRAK Clip (RTC) ON</text><text transform="translate(719.3 678.4) scale(0.78 1)" x="0" y="0" textLength="141.5" lengthAdjust="spacing" class="c">EACH SIDE</text><text transform="translate(719.3 722) scale(0.78 1)" x="0" y="0" textLength="277.3" lengthAdjust="spacing" class="c">OUTER/OVERLAPPING</text><text transform="translate(719.3 746.5) scale(0.78 1)" x="0" y="0" textLength="209.6" lengthAdjust="spacing" class="c">GYPSUM BOARD</text><text transform="translate(719.3 772.6) scale(0.78 1)" x="0" y="0" textLength="88.8" lengthAdjust="spacing" class="c">STRIPS</text><text transform="translate(719.3 826) scale(0.78 1)" x="0" y="0" textLength="275.0" lengthAdjust="spacing" class="c">FIRE RATED GYPSUM</text><text transform="translate(719.3 853.6) scale(0.78 1)" x="0" y="0" textLength="291.5" lengthAdjust="spacing" class="c">BOARD (LAYERS VARY</text><text transform="translate(719.3 881.5) scale(0.78 1)" x="0" y="0" textLength="260.8" lengthAdjust="spacing" class="c">PER UL ASSEMBLY)</text><text transform="translate(386.2 938.4) scale(0.78 1)" x="0" y="0" textLength="147.7" lengthAdjust="spacing" class="c">WALL STUD</text><text transform="translate(373.8 963.6) scale(0.78 1)" x="0" y="0" textLength="180.5" lengthAdjust="spacing" class="c">WIDTH VARIES</text><path transform="translate(182.5 369.5) rotate(-90)" d="M0.00 -12.4 L3.50 -15.6 L3.50 0 M12.00 -6.7 L24.00 -6.7 M30.20 -12.4 L33.70 -15.6 L33.70 0 M40.50 4.8 L52.50 -18.5 M55.90 -11.8 C56.20 -14.6 58.30 -15.7 60.50 -15.7 C63.20 -15.7 65.20 -13.9 65.20 -11.4 C65.20 -9.4 63.90 -7.8 62.30 -6.3 L55.50 0 L65.50 0 " fill="none" stroke="#2e2e2e" stroke-width="1.25" stroke-linecap="round" stroke-linejoin="round"/><path transform="translate(182.5 369.5) rotate(-90)" d="M71.00 -18.2 L71.00 -17.6 Q71.10 -15.4 70.10 -14.0 M74.80 -18.2 L74.80 -17.6 Q74.90 -15.4 73.90 -14.0 " fill="none" stroke="#222" stroke-width="1.7" stroke-linecap="round"/><path transform="translate(196.1 578.3) rotate(-90)" d="M6.30 0 L6.30 -15.6 L0.00 -5.4 L8.80 -5.4 M13.50 -6.7 L24.80 -6.7 M31.20 -12.4 L34.70 -15.6 L34.70 0 M41.90 4.8 L54.00 -18.5 M57.58 -11.8 C57.87 -14.6 59.89 -15.7 62.00 -15.7 C64.59 -15.7 66.51 -13.9 66.51 -11.4 C66.51 -9.4 65.26 -7.8 63.73 -6.3 L57.20 0 L66.80 0 " fill="none" stroke="#2e2e2e" stroke-width="1.25" stroke-linecap="round" stroke-linejoin="round"/><path transform="translate(196.1 578.3) rotate(-90)" d="M71.80 -18.2 L71.80 -17.6 Q71.90 -15.4 70.90 -14.0 M75.60 -18.2 L75.60 -17.6 Q75.70 -15.4 74.70 -14.0 " fill="none" stroke="#222" stroke-width="1.7" stroke-linecap="round"/><path transform="translate(95 481.6) rotate(-90)" d="M0.00 -12.4 L3.50 -15.6 L3.50 0 " fill="none" stroke="#2e2e2e" stroke-width="1.25" stroke-linecap="round" stroke-linejoin="round"/><path transform="translate(95 481.6) rotate(-90)" d="M13.10 -18.2 L13.10 -17.6 Q13.20 -15.4 12.20 -14.0 M16.90 -18.2 L16.90 -17.6 Q17.00 -15.4 16.00 -14.0 " fill="none" stroke="#222" stroke-width="1.7" stroke-linecap="round"/><path transform="translate(409.8 570) rotate(-90)" d="M0.38 -11.8 C0.66 -14.6 2.66 -15.7 4.75 -15.7 C7.31 -15.7 9.21 -13.9 9.21 -11.4 C9.21 -9.4 7.98 -7.8 6.46 -6.3 L0.00 0 L9.50 0 " fill="none" stroke="#2e2e2e" stroke-width="1.25" stroke-linecap="round" stroke-linejoin="round"/><path transform="translate(409.8 570) rotate(-90)" d="M17.00 -18.2 L17.00 -17.6 Q17.10 -15.4 16.10 -14.0 M20.80 -18.2 L20.80 -17.6 Q20.90 -15.4 19.90 -14.0 " fill="none" stroke="#222" stroke-width="1.7" stroke-linecap="round"/><text transform="translate(132 516) rotate(-90) scale(0.78 1)" x="0" y="0" textLength="109.0" lengthAdjust="spacing" class="c">NOMINAL</text><text transform="translate(157.6 500) rotate(-90) scale(0.78 1)" x="0" y="0" textLength="68.8" lengthAdjust="spacing" class="c">JOINT</text><text transform="translate(409.8 534) rotate(-90) scale(0.78 1)" x="0" y="0" textLength="40.0" lengthAdjust="spacing" class="c">MIN</text>

<rect x="1.5" y="868.6" width="347.7" height="127.8" fill="none" stroke="#555" stroke-width="1.2"/>
<text x="54" y="897.4" textLength="239.4" lengthAdjust="spacingAndGlyphs" class="tt" style="font-size:24.6px">HEAD OF WALL - 1HR</text>
<line x1="53" y1="902.9" x2="294" y2="902.9" stroke="#222" stroke-width="1.3"/>
<text x="46.4" y="926.3" textLength="255.3" lengthAdjust="spacingAndGlyphs" class="tt" style="font-size:24.6px">UL DESIGN HW-D-0823</text>
<text x="74.5" y="955.4" textLength="200.9" lengthAdjust="spacingAndGlyphs" class="tt" style="font-size:24.6px">(ALT 3A1 and 3B1)</text>
<text x="15.3" y="981.4" textLength="317.7" lengthAdjust="spacingAndGlyphs" class="tt" style="font-size:18.4px">(1" DEFLECTION SYSTEM SHOWN)</text>

</svg>
</body></html>
